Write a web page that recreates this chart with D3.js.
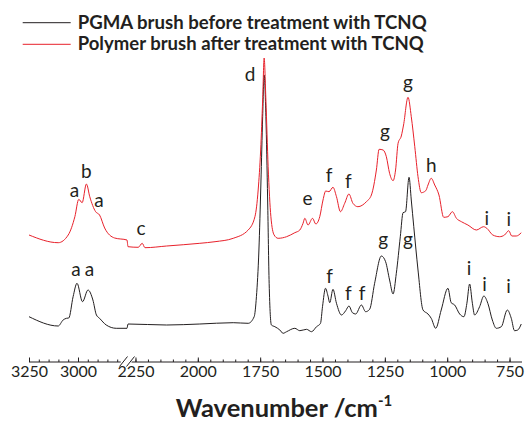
<!DOCTYPE html>
<html>
<head>
<meta charset="utf-8">
<script src="https://cdn.jsdelivr.net/npm/d3@7"></script>
<style>
  body { margin: 0; background: #fff; }
  text { font-family: Lato, "Open Sans", sans-serif; fill: #231f20; }
</style>
</head>
<body>
<script>
// IR spectra, wavenumber (cm-1) vs. absorbance (arbitrary units)
const beforeSpectrum = [
  [3250, 45.3], [3101, 36], [3076, 42], [3059, 43.7], [3047, 44], [3025, 65.3], [3005, 78.7],
  [2977, 60.3], [2949, 72], [2924, 62], [2906, 47], [2890, 43.7], [2856, 37], [2805, 33.7],
  [2750, 33.7], [2280, 38], [2125, 37], [1992, 38], [1858, 39.3], [1798, 38.7], [1774, 45.3],
  [1765, 65.3], [1755, 112], [1747, 179], [1740, 245.3], [1734, 287], [1727, 245.3], [1720, 162],
  [1714, 78.7], [1705, 37], [1691, 35.3], [1671, 32], [1658, 28.7], [1644, 30.3], [1611, 33.7],
  [1591, 31.3], [1564, 32.7], [1544, 30.3], [1524, 35.3], [1508, 38.7], [1500, 55.3], [1488, 73.7],
  [1478, 66], [1471, 59.3], [1458, 72.7], [1444, 58.7], [1424, 47], [1407, 51.3], [1394, 56],
  [1380, 49.3], [1367, 48], [1344, 57], [1327, 50.3], [1311, 52.7], [1291, 78.7], [1264, 106],
  [1247, 100.3], [1231, 82], [1217, 68], [1204, 88.7], [1188, 125.3], [1177, 149.3], [1167, 150.3],
  [1153, 184.7], [1144, 162], [1134, 135.3], [1117, 92], [1097, 52], [1077, 48], [1064, 43.7],
  [1046, 33.7], [1024, 52], [997, 73.7], [984, 59.3], [970, 57], [950, 48], [933, 45.3],
  [921, 58.7], [910, 78], [899, 58.7], [890, 47], [870, 55.3], [853, 66], [837, 58.7], [819, 42],
  [803, 33.7], [783, 35.3], [759, 52], [743, 43.7], [730, 31.3], [717, 32], [703, 38]
];

const afterSpectrum = [
  [3250, 127], [3101, 119.3], [3050, 127], [3016, 145.3], [2996, 162.7], [2979, 159.3], [2957, 178],
  [2940, 165.3], [2910, 150.3], [2890, 147], [2864, 134], [2813, 124], [2750, 122], [2280, 115.3],
  [2239, 114.7], [2223, 118.7], [2212, 114.3], [2125, 116], [1992, 118.7], [1931, 120.3],
  [1858, 123.7], [1798, 132], [1771, 145.3], [1758, 172], [1748, 212], [1740, 262], [1734, 304],
  [1727, 262], [1718, 195.3], [1707, 145.3], [1694, 127], [1678, 123.7], [1644, 125.3], [1611, 129.3],
  [1591, 132], [1578, 138.7], [1571, 143.7], [1558, 137], [1540, 143.7], [1527, 138], [1511, 145.3],
  [1498, 162], [1487, 171], [1474, 170.3], [1458, 174.7], [1444, 165.3], [1428, 150.3], [1411, 158.7],
  [1394, 168], [1378, 158.7], [1358, 155.3], [1324, 160.3], [1304, 167], [1284, 192], [1273, 212.7],
  [1257, 212], [1244, 205.3], [1231, 188.7], [1217, 181.3], [1207, 192], [1197, 218.7], [1184, 226],
  [1175, 237], [1157, 264.7], [1144, 245.3], [1130, 215.3], [1117, 185.3], [1104, 169.3], [1086, 171.3],
  [1077, 177], [1064, 183.7], [1050, 177], [1033, 167], [1014, 144.7], [997, 145.3], [979, 150.3],
  [963, 143.7], [943, 140.3], [917, 137], [883, 132], [854, 135.3], [841, 133.7], [817, 127],
  [790, 125.3], [770, 127], [753, 131.3], [741, 126], [723, 126], [703, 129.3]
];

const seriesNames = ["PGMA brush before treatment with TCNQ", "Polymer brush after treatment with TCNQ"];
const seriesColors = ["#231f20", "#e8212b"];
const legendWidths = [349, 346];

const majorTicks = [3250, 3000, 2250, 2000, 1750, 1500, 1250, 1000, 750];

// peak letters: [wavenumber, absorbance of label baseline, letter]
const afterLabels = [
  [3018, 165, "a"], [2957, 183.7, "b"], [2893, 154.7, "a"], [2228, 127, "c"], [1790, 281.3, "d"],
  [1560, 157, "e"], [1474, 180.3, "f"], [1396, 174.3, "f"], [1250, 224, "g"], [1157, 272.7, "g"],
  [1064, 190.3, "h"], [841, 137, "i"], [753, 136.3, "i"]
];
const beforeLabels = [
  [3010, 86, "a"], [2942, 86, "a"], [1472, 78.7, "f"], [1396, 62, "f"], [1341, 62, "f"],
  [1257, 116, "g"], [1157, 116, "g"], [912, 87, "i"], [850, 71.3, "i"], [754, 68.7, "i"]
];

const svg = d3.select("body").append("svg").attr("width", 528).attr("height", 423);

// broken wavenumber axis: the gap 2750..2280 is squeezed into one pixel
const x = d3.scaleLinear().domain([3250, 2750, 2280, 700]).range([29, 127, 128, 522]);
const y = d3.scaleLinear().domain([0, 300]).range([362, 62]);
const axisY = y(0);

// axis
const axisG = svg.append("g").attr("transform", `translate(0, ${axisY})`);
axisG.append("g")
  .call(d3.axisBottom(x).tickValues(d3.range(3250, 2779, -50).concat(d3.range(2250, 749, -50)))
    .tickSize(-2.5).tickFormat(""))
  .call(g => g.select(".domain").remove());
axisG.append("g")
  .call(d3.axisBottom(x).tickValues(majorTicks).tickSize(-4.5).tickPadding(4).tickFormat(d3.format("d")))
  .call(g => g.select(".domain").remove())
  .call(g => g.selectAll("text").attr("font-size", "16px").attr("font-family", "Lato").attr("fill", "#231f20"));
axisG.selectAll(".tick line").attr("stroke", "#231f20");

axisG.append("line").attr("x1", x(3250)).attr("x2", x(2782)).attr("stroke", "#231f20");
axisG.append("line").attr("x1", x(2266)).attr("x2", x(700)).attr("stroke", "#231f20");
// break marks
const bx = (x(2750) + x(2280)) / 2;
[-4, 3].forEach(o => {
  axisG.append("line")
    .attr("x1", bx + o - 4).attr("y1", 4.5)
    .attr("x2", bx + o + 4).attr("y2", -5.5)
    .attr("stroke", "#231f20");
});

svg.append("text")
  .attr("x", 284).attr("y", 416.5)
  .attr("text-anchor", "middle")
  .attr("font-size", "25.5px").attr("font-weight", "bold")
  .text("Wavenumber /cm")
  .append("tspan").attr("font-size", "15px").attr("dy", "-11").text("-1");

// spectra
const line = d3.line().x(d => x(d[0])).y(d => y(d[1])).curve(d3.curveMonotoneX);
[beforeSpectrum, afterSpectrum].forEach((s, i) => {
  svg.append("path").datum(s)
    .attr("d", line)
    .attr("fill", "none")
    .attr("stroke", seriesColors[i])
    .attr("stroke-width", 1)
    .attr("stroke-linejoin", "round");
});

// peak assignments
svg.selectAll("text.peak")
  .data(afterLabels.concat(beforeLabels))
  .join("text")
  .attr("class", "peak")
  .attr("x", d => x(d[0]))
  .attr("y", d => y(d[1]))
  .attr("text-anchor", "middle")
  .attr("font-size", "19px")
  .text(d => d[2]);

// legend
const legend = svg.append("g");
seriesNames.forEach((name, i) => {
  const ly = 22.7 + i * 21.6;
  legend.append("line")
    .attr("x1", 22.7).attr("x2", 70.7).attr("y1", ly).attr("y2", ly)
    .attr("stroke", seriesColors[i]).attr("stroke-width", 1);
  legend.append("text")
    .attr("x", 77.7).attr("y", ly + 5.8)
    .attr("font-size", "18.5px").attr("font-weight", "bold")
    .attr("textLength", legendWidths[i]).attr("lengthAdjust", "spacingAndGlyphs")
    .text(name);
});
</script>
</body>
</html>
